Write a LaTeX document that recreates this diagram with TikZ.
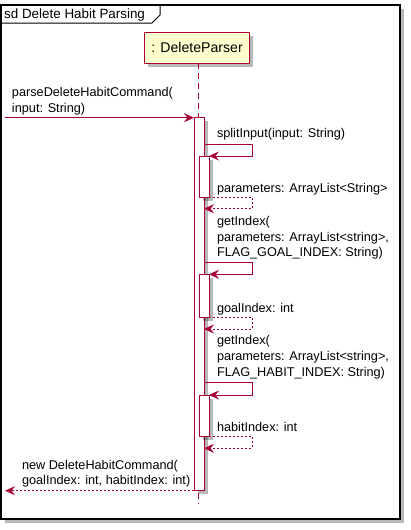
\documentclass[tikz,border=0pt]{standalone}
\usepackage{fontspec}
\setmainfont{Liberation Sans}
\usetikzlibrary{arrows.meta,shadows}
\definecolor{umlred}{HTML}{A80036}
\definecolor{umlyellow}{HTML}{FEFECE}
\newcommand{\mlines}[1]{\begin{tabular}[b]{@{}l@{}}#1\end{tabular}}
\begin{document}
\begin{tikzpicture}[x=1pt,y=-1pt,
  msgfont/.style={font=\fontsize{12.7}{15.7}\selectfont},
  lbl/.style={msgfont, anchor=base west, inner sep=0pt, outer sep=0pt},
  shade box/.style={drop shadow={shadow xshift=3.5pt,shadow yshift=-3.5pt,opacity=0.28,fill=black}},
  actbox/.style={draw=umlred, fill=white, line width=1pt, inner sep=0pt, outer sep=0pt,
                 minimum width=10pt, anchor=north west, shade box},
  sync/.style={draw=umlred, line width=1pt, -{Stealth[length=10pt,width=9pt,inset=3.5pt]}},
  reply/.style={sync, dash pattern=on 2pt off 2pt},
  lifeline/.style={draw=umlred, line width=1pt, dash pattern=on 6pt off 4pt},
]
\fill[white] (0,0) rectangle (411,530);
\useasboundingbox (0,0) rectangle (411,530);

% frame
\node[draw=black, line width=1.3pt, fill=white, minimum width=399pt, minimum height=514pt,
      inner sep=0pt, outer sep=0pt, anchor=north west, shade box] (frame) at (1,5) {};
\node[anchor=base west, inner sep=0pt, font=\fontsize{13.4}{16}\selectfont] (title) at (4,19) {sd Delete Habit Parsing};
\draw[line width=1pt] (1,23) -- (152,23) -- (160,15) -- (160,5);

% participant and lifeline
\node[draw=umlred, fill=umlyellow, line width=1.2pt, minimum width=105pt, minimum height=31pt,
      inner sep=0pt, shade box, font=\fontsize{14.1}{17}\selectfont] (p) at (197,47.7) {: DeleteParser};
\coordinate (lltop) at (198.5,63.3);
\coordinate (llbot) at (198.5,504);
\draw[lifeline] (lltop) -- (llbot);

% activations
\node[actbox, minimum height=373pt] (act0) at (194,117.7) {};
\node[actbox, minimum height=41pt] (act1) at (199,156) {};
\node[actbox, minimum height=43pt] (act2) at (199,274.3) {};
\node[actbox, minimum height=41pt] (act3) at (199,395) {};

% incoming call
\coordinate (caller) at (5,117.7);
\draw[sync] (caller) -- (act0.north west);
\node[lbl] (l0) at (12,112.3) {\mlines{parseDeleteHabitCommand(\\input: String)}};

% splitInput
\coordinate (s1) at (204,144);
\draw[sync] (s1) -- ++(48,0) |- (act1.north east);
\node[lbl] (l1) at (217,137.5) {splitInput(input: String)};
\coordinate (r1) at (204,208.7);
\draw[reply] (act1.south east) -- ++(43,0) |- (r1);
\node[lbl] (l2) at (217,192.3) {parameters: ArrayList<String>};

% getIndex goal
\coordinate (s2) at (204,262.7);
\draw[sync] (s2) -- ++(48,0) |- (act2.north east);
\node[lbl] (l3) at (217,256.7) {\mlines{getIndex(\\parameters: ArrayList<string>,\\FLAG\_GOAL\_INDEX: String)}};
\coordinate (r2) at (204,329);
\draw[reply] (act2.south east) -- ++(43,0) |- (r2);
\node[lbl] (l4) at (217,312.3) {goalIndex: int};

% getIndex habit
\coordinate (s3) at (204,382.3);
\draw[sync] (s3) -- ++(48,0) |- (act3.north east);
\node[lbl] (l5) at (217,376.3) {\mlines{getIndex(\\parameters: ArrayList<string>,\\FLAG\_HABIT\_INDEX: String)}};
\coordinate (r3) at (204,448.3);
\draw[reply] (act3.south east) -- ++(43,0) |- (r3);
\node[lbl] (l6) at (217,431.3) {habitIndex: int};

% final return
\coordinate (ret) at (5,490.7);
\draw[reply] (act0.south west) -- (ret);
\node[lbl] (l7) at (22,484.7) {\mlines{new DeleteHabitCommand(\\goalIndex: int, habitIndex: int)}};
\end{tikzpicture}
\end{document}
